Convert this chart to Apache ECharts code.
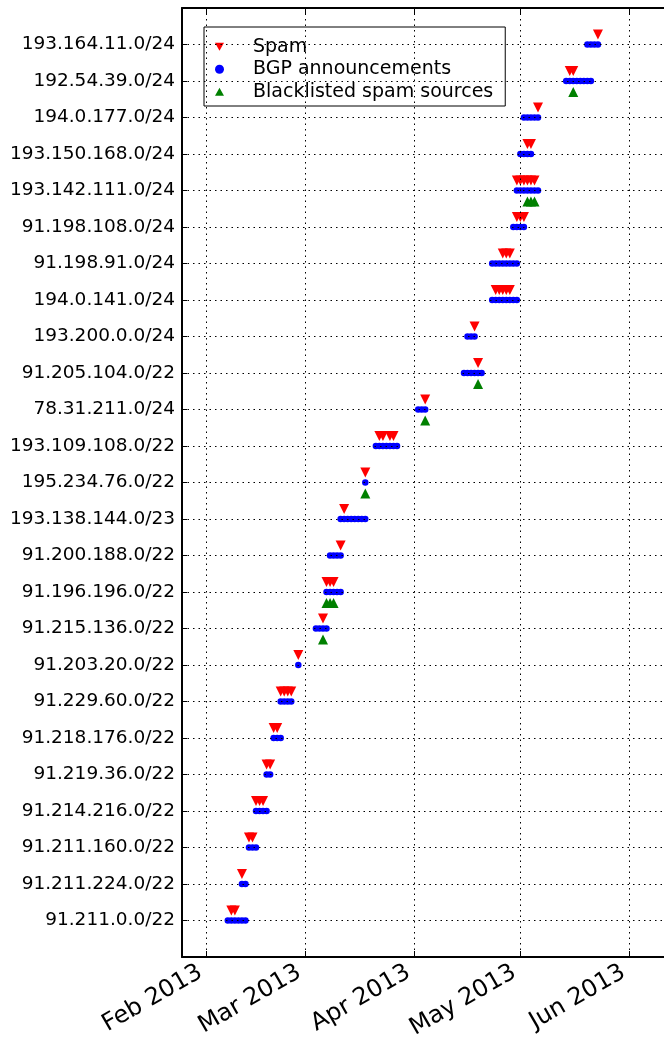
<!DOCTYPE html>
<html>
<head>
<meta charset="utf-8">
<script src="https://cdn.jsdelivr.net/npm/echarts@6/dist/echarts.min.js"></script>
<style>
html,body{margin:0;padding:0;background:#fff;}
#chart{width:664px;height:1045px;}
</style>
</head>
<body>
<div id="chart"></div>
<script>
// Prefixes, bottom row (index 0) to top row (index 24)
const prefixes = [
  '91.211.0.0/22', '91.211.224.0/22', '91.211.160.0/22', '91.214.216.0/22',
  '91.219.36.0/22', '91.218.176.0/22', '91.229.60.0/22', '91.203.20.0/22',
  '91.215.136.0/22', '91.196.196.0/22', '91.200.188.0/22', '193.138.144.0/23',
  '195.234.76.0/22', '193.109.108.0/22', '78.31.211.0/24', '91.205.104.0/22',
  '193.200.0.0/24', '194.0.141.0/24', '91.198.91.0/24', '91.198.108.0/24',
  '193.142.111.0/24', '193.150.168.0/24', '194.0.177.0/24', '192.54.39.0/24',
  '193.164.11.0/24'
];

// BGP announcement days (2013, MM-DD) per prefix row
const bgpDays = [
  ['02-07','02-08','02-09','02-10','02-11','02-12'],
  ['02-11','02-12'],
  ['02-13','02-14','02-15'],
  ['02-15','02-16','02-17','02-18'],
  ['02-18','02-19'],
  ['02-20','02-21','02-22'],
  ['02-22','02-23','02-24','02-25'],
  ['02-27'],
  ['03-04','03-05','03-06','03-07'],
  ['03-07','03-08','03-09','03-10','03-11'],
  ['03-08','03-09','03-10','03-11'],
  ['03-11','03-12','03-13','03-14','03-15','03-16','03-17','03-18'],
  ['03-18'],
  ['03-21','03-22','03-23','03-24','03-25','03-26','03-27'],
  ['04-02','04-03','04-04'],
  ['04-15','04-16','04-17','04-18','04-19','04-20'],
  ['04-16','04-17','04-18'],
  ['04-23','04-24','04-25','04-26','04-27','04-28','04-29','04-30'],
  ['04-23','04-24','04-25','04-26','04-27','04-28','04-29','04-30'],
  ['04-29','04-30','05-01','05-02'],
  ['04-30','05-01','05-02','05-03','05-04','05-05','05-06'],
  ['05-01','05-02','05-03','05-04'],
  ['05-02','05-03','05-04','05-05','05-06'],
  ['05-14','05-15','05-16','05-17','05-18','05-19','05-20','05-21'],
  ['05-20','05-21','05-22','05-23']
];

// Spam days per prefix row
const spamDays = [
  ['02-08','02-09'],
  ['02-11'],
  ['02-13','02-14'],
  ['02-15','02-16','02-17'],
  ['02-18','02-19'],
  ['02-20','02-21'],
  ['02-22','02-23','02-24','02-25'],
  ['02-27'],
  ['03-06'],
  ['03-07','03-08','03-09'],
  ['03-11'],
  ['03-12'],
  ['03-18'],
  ['03-22','03-23','03-25','03-26'],
  ['04-04'],
  ['04-19'],
  ['04-18'],
  ['04-24','04-25','04-26','04-27','04-28'],
  ['04-26','04-27','04-28'],
  ['04-30','05-01','05-02'],
  ['04-30','05-01','05-02','05-03','05-04','05-05'],
  ['05-03','05-04'],
  ['05-06'],
  ['05-15','05-16'],
  ['05-23']
];

// Blacklisted spam source days per prefix row
const blacklistDays = [
  [], [], [], [], [], [], [], [],
  ['03-06'],
  ['03-07','03-08','03-09'],
  [], [],
  ['03-18'],
  [],
  ['04-04'],
  ['04-19'],
  [], [], [], [],
  ['05-03','05-04','05-05'],
  [], [],
  ['05-16'],
  []
];

const monthNames = ['Jan','Feb','Mar','Apr','May','Jun','Jul','Aug','Sep','Oct','Nov','Dec'];
const xMin = '2013-01-25';
const xMax = '2013-06-15';

function toPoints(rows) {
  const out = [];
  rows.forEach((days, r) => days.forEach(d => out.push(['2013-' + d, r])));
  return out;
}

const FONT = 'DejaVu Sans';
const chart = echarts.init(document.getElementById('chart'), null, {renderer: 'canvas'});

const dotted = {color: '#000', width: 1, type: [1.5, 4]};
const DAY = 86400000;

chart.setOption({
  animation: false,
  backgroundColor: '#fff',
  grid: {left: 182, top: 8, width: 497, height: 949, containLabel: false, outerBoundsMode: 'none'},
  legend: {
    left: 204, top: 27,
    orient: 'vertical',
    padding: [10.3, 12, 4.7, 11],
    itemGap: 3.5,
    itemWidth: 9, itemHeight: 9,
    borderColor: '#000', borderWidth: 1, borderRadius: 0,
    backgroundColor: '#fff',
    selectedMode: false,
    data: [
      {name: 'Spam', icon: 'path://M0,0L2,0L1,1.8Z'},
      {name: 'BGP announcements', icon: 'circle'},
      {name: 'Blacklisted spam sources', icon: 'path://M1,0L2,1.8L0,1.8Z'}
    ],
    formatter: name => '{t|' + name + '}',
    textStyle: {
      color: '#000', fontFamily: FONT, fontSize: 19,
      rich: {t: {padding: [0, 0, 0, 24], fontSize: 19, lineHeight: 22, fontFamily: FONT, color: '#000'}}
    }
  },
  xAxis: [{
    type: 'time', position: 'bottom', z: 5,
    min: xMin, max: xMax,
    minInterval: 28 * DAY, maxInterval: 31 * DAY,
    axisLine: {show: true, onZero: false, lineStyle: {color: '#000', width: 2}},
    axisTick: {show: true, inside: true, length: 6, lineStyle: {color: '#000', width: 1}},
    splitLine: {show: true, lineStyle: dotted},
    axisLabel: {
      show: true, rotate: 30, margin: 24, verticalAlign: 'bottom',
      color: '#000', fontFamily: FONT, fontSize: 24,
      showMinLabel: false, showMaxLabel: false,
      formatter: function (v) {
        const d = new Date(v);
        if (d.getDate() !== 1) return '';
        return monthNames[d.getMonth()] + ' ' + d.getFullYear();
      }
    }
  }, {
    type: 'time', position: 'top', z: 5,
    min: xMin, max: xMax,
    minInterval: 28 * DAY, maxInterval: 31 * DAY,
    axisLine: {show: true, onZero: false, lineStyle: {color: '#000', width: 2}},
    axisTick: {show: true, inside: true, length: 6, lineStyle: {color: '#000', width: 1}},
    splitLine: {show: false},
    axisLabel: {show: false}
  }],
  yAxis: {
    type: 'value', z: 5,
    min: -1, max: 25, interval: 1,
    axisLine: {show: true, onZero: false, lineStyle: {color: '#000', width: 2}},
    axisTick: {show: true, inside: true, length: 5, lineStyle: {color: '#000', width: 1}},
    splitLine: {show: true, showMinLine: false, showMaxLine: false, lineStyle: dotted},
    axisLabel: {
      margin: 7, color: '#000', fontFamily: FONT, fontSize: 18.5,
      formatter: v => (prefixes[v] !== undefined ? prefixes[v] : '')
    }
  },
  series: [{
    name: 'Spam', type: 'scatter', xAxisIndex: 0,
    symbol: 'triangle', symbolRotate: 180, symbolSize: [10, 10], symbolOffset: [0, -10],
    itemStyle: {color: '#ff0000', opacity: 1},
    emphasis: {disabled: true},
    data: toPoints(spamDays)
  }, {
    name: 'BGP announcements', type: 'scatter', xAxisIndex: 0,
    symbol: 'circle', symbolSize: 6.5,
    itemStyle: {color: '#0000ff', opacity: 1},
    emphasis: {disabled: true},
    data: toPoints(bgpDays)
  }, {
    name: 'Blacklisted spam sources', type: 'scatter', xAxisIndex: 0,
    symbol: 'triangle', symbolSize: [10, 10], symbolOffset: [0, 11],
    itemStyle: {color: '#008000', opacity: 1},
    emphasis: {disabled: true},
    data: toPoints(blacklistDays)
  }]
});
</script>
</body>
</html>
